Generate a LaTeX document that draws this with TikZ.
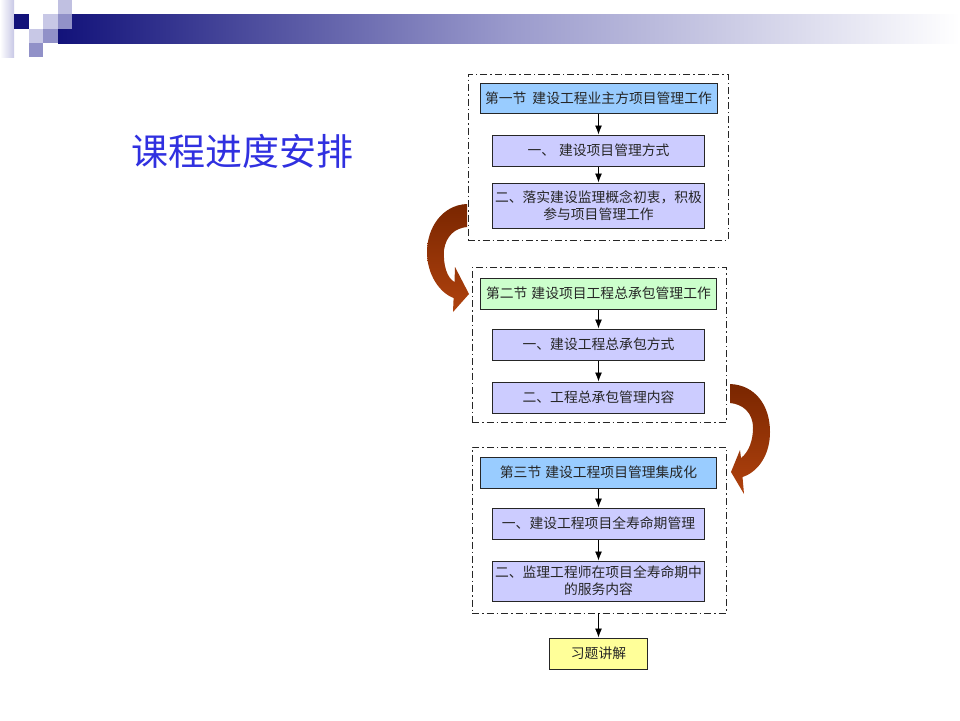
\documentclass[tikz,border=0pt]{standalone}
\usepackage{fontspec}
\newfontfamily\cjk{Noto Sans CJK SC}
\usetikzlibrary{arrows.meta}
\definecolor{navy}{HTML}{12127A}
\definecolor{barmid}{HTML}{9A9ACC}
\definecolor{sqmid}{HTML}{9191C8}
\definecolor{sqlight}{HTML}{C8C8E6}
\definecolor{titleblue}{HTML}{3030E0}
\definecolor{bluebox}{HTML}{99CCFF}
\definecolor{lavbox}{HTML}{CCCCFF}
\definecolor{greenbox}{HTML}{CCFFCC}
\definecolor{yellowbox}{HTML}{FFFF99}
\definecolor{brdark}{HTML}{7A2600}
\definecolor{brlight}{HTML}{B0420E}
\begin{document}
\begin{tikzpicture}[x=1pt,y=-1pt,
  box/.style={draw=black!85, line width=1pt, inner sep=0pt, align=center,
    font=\cjk\fontsize{13.8}{17}\selectfont, text=black!85},
  frame/.style={draw=black!85, line width=0.9pt,
    dash pattern=on 7pt off 3pt on 1.5pt off 3pt, inner sep=0pt},
  conn/.style={line width=0.9pt, -{Latex[length=9pt,width=7pt]}},
  curved/.style={top color=brdark, bottom color=brlight, draw=none}]
\useasboundingbox (0,0) rectangle (960,720);
\fill[white] (0,0) rectangle (960,720);
% header decoration
\shade[left color=white, right color=sqlight] (0,0) rectangle (14,57);
\shade[left color=navy, right color=white, middle color=barmid] (58,14) rectangle (960,43);
\fill[navy] (14,14) rectangle (29,29);
\fill[sqlight] (43,14) rectangle (58,29);
\fill[sqlight!85!sqmid] (58,0) rectangle (72,14);
\fill[sqmid] (58,14) rectangle (72,29);
\fill[sqlight] (29,29) rectangle (43,43);
\fill[sqmid] (43,29) rectangle (58,43);
\fill[sqmid] (29,43) rectangle (43,57);
% title
\node[font=\cjk\fontsize{37}{40}\selectfont, text=titleblue, inner sep=0pt] (title) at (242,151) {课程进度安排};
% frames
\node[frame, minimum width=260pt, minimum height=166pt] (f1) at (598,157) {};
\node[frame, minimum width=254pt, minimum height=155pt] (f2) at (599,344.5) {};
\node[frame, minimum width=254pt, minimum height=166pt] (f3) at (599,530) {};
% boxes
\node[box, fill=bluebox, minimum width=237pt, minimum height=30pt] (b1) at (598.5,98) {第一节\hspace{6pt}建设工程业主方项目管理工作};
\node[box, fill=lavbox, minimum width=212pt, minimum height=31pt] (b2) at (598.5,150.5) {一、\hspace{4pt}建设项目管理方式};
\node[box, fill=lavbox, minimum width=212pt, minimum height=45pt] (b3) at (598.5,205.5) {二、落实建设监理概念初衷，积极\\参与项目管理工作};
\node[box, fill=greenbox, minimum width=236pt, minimum height=31pt] (c1) at (598.5,293.5) {第二节\hspace{4pt}建设项目工程总承包管理工作};
\node[box, fill=lavbox, minimum width=212pt, minimum height=31pt] (c2) at (598.5,344.5) {一、建设工程总承包方式};
\node[box, fill=lavbox, minimum width=212pt, minimum height=31pt] (c3) at (598.5,397.5) {二、工程总承包管理内容};
\node[box, fill=bluebox, minimum width=236pt, minimum height=31pt] (d1) at (598.5,472.5) {第三节\hspace{4pt}建设工程项目管理集成化};
\node[box, fill=lavbox, minimum width=212pt, minimum height=31pt] (d2) at (598.5,523.5) {一、建设工程项目全寿命期管理};
\node[box, fill=lavbox, minimum width=212pt, minimum height=40pt] (d3) at (598.5,581) {二、监理工程师在项目全寿命期中\\的服务内容};
\node[box, fill=yellowbox, minimum width=98pt, minimum height=31pt] (e) at (598.5,653.5) {习题讲解};
% connectors
\draw[conn] (b1.south) -- (b2.north);
\draw[conn] (b2.south) -- (b3.north);
\draw[conn] (c1.south) -- (c2.north);
\draw[conn] (c2.south) -- (c3.north);
\draw[conn] (d1.south) -- (d2.north);
\draw[conn] (d2.south) -- (d3.north);
\draw[conn] (e.north |- f3.south) -- (e.north);
% curved arrows
\path[curved] (467,204) .. controls (442,205) and (427,228) .. (427,252)
  .. controls (427,275) and (440,293) .. (453.6,298)
  -- (453,312) -- (469,294) -- (455,267) -- (454.5,282)
  .. controls (447,278) and (443,265) .. (444,250)
  .. controls (446,236) and (455,228) .. (467,227) -- cycle;
\path[curved] (730,384) .. controls (755,385) and (770,405) .. (770,432)
  .. controls (770,455) and (758,472) .. (742.5,477)
  -- (744,494) -- (731,472) -- (740,450) -- (741,458)
  .. controls (749,452) and (753,440) .. (753,428)
  .. controls (753,412) and (742,404) .. (730,403) -- cycle;
\end{tikzpicture}
\end{document}
